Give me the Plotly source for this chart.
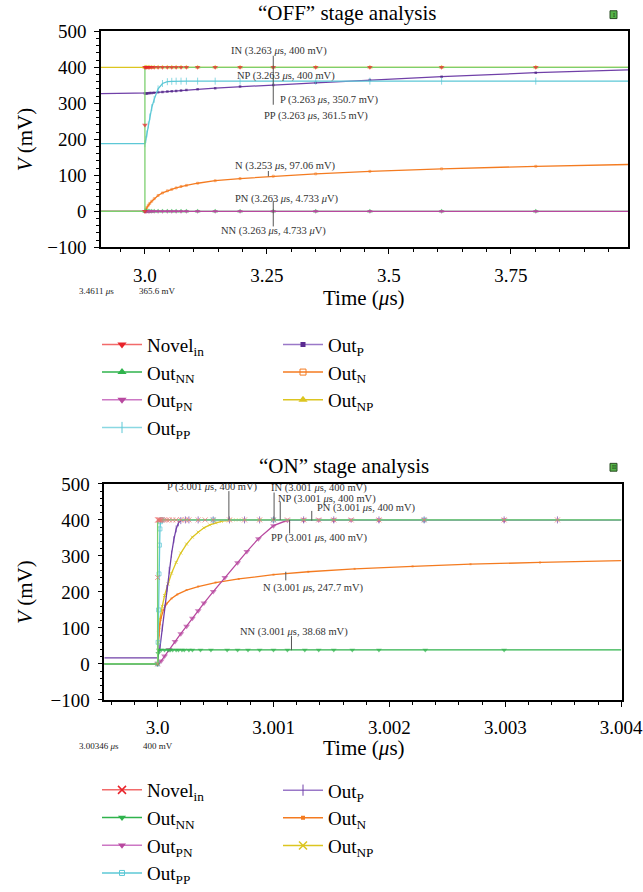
import plotly.graph_objects as go

W, H = 643, 892

# ---------------- DATA: "OFF" stage (time in us, voltage in mV) ----------------
off_t = [2.91, 3.0, 3.002, 3.004, 3.007, 3.01, 3.014, 3.019, 3.027, 3.036, 3.046, 3.055,
         3.064, 3.074, 3.085, 3.108, 3.144, 3.195, 3.263, 3.35, 3.461, 3.608, 3.801, 3.99]
off_in_t = [2.91, 3.0, 3.0, 3.0, 3.002, 3.004, 3.007, 3.01, 3.014, 3.019, 3.027, 3.036, 3.046,
            3.055, 3.064, 3.074, 3.085, 3.108, 3.144, 3.195, 3.263, 3.35, 3.461, 3.608, 3.801, 3.99]
off_in_v = [0, 0, 240, 400, 400, 400, 400, 400, 400, 400, 400, 400, 400,
            400, 400, 400, 400, 400, 400, 400, 400, 400, 400, 400, 400, 400]
off_nn_v = [0, 0, 0, 0, 0, 0, 0, 0, 0, 0, 0, 0, 0, 0, 0, 0, 0, 0, 0, 0, 0, 0, 0, 0]
off_pn_v = [0, 0, 0, 0, 0, 0, 0, 0, 0, 0, 0, 0, 0, 0, 0, 0, 0, 0, 0, 0, 0, 0, 0, 0]
off_pp_v = [188, 188, 200, 215, 240, 262, 288, 311, 340, 355, 360, 361,
            361.5, 361.5, 361.5, 361.5, 361.5, 361.5, 361.5, 361.5, 361.5, 361.5, 361.5, 361.5]
off_p_v = [327, 327, 327.3, 327.5, 327.9, 328.3, 328.8, 329.4, 330.4, 331.4, 332.5, 333.4,
           334.4, 335.4, 336.6, 338.8, 342.0, 346.3, 350.7, 356.8, 364.5, 373.8, 385.0, 393.0]
off_n_v = [0, 0, 6, 11, 17, 22, 28, 35, 44, 51, 57, 61,
           65, 69, 72, 78, 85, 91, 97.5, 104, 111, 118, 125, 130]
off_np_v = [400, 400, 400, 400, 400, 400, 400, 400, 400, 400, 400, 400,
            400, 400, 400, 400, 400, 400, 400, 400, 400, 400, 400, 400]

# ---------------- DATA: "ON" stage ----------------
on_in_t = [2.99954, 3.0, 3.0, 3.0, 3.000005, 3.00001, 3.000015, 3.00002, 3.00003, 3.00004,
           3.00006, 3.00008, 3.0001, 3.00013, 3.00016, 3.0002, 3.00024, 3.00027, 3.00035,
           3.00041, 3.00048, 3.00062, 3.00075, 3.00088, 3.001, 3.00112, 3.00126, 3.00139,
           3.00152, 3.00167, 3.00191, 3.0023, 3.00299, 3.00345, 3.004]
on_in_v = [0, 0, 240, 400, 400, 400, 400, 400, 400, 400,
           400, 400, 400, 400, 400, 400, 400, 400, 400,
           400, 400, 400, 400, 400, 400, 400, 400, 400,
           400, 400, 400, 400, 400, 400, 400]
on_nn_t = [2.99954, 3.0, 3.000005, 3.00001, 3.00003, 3.00006, 3.00009, 3.00011, 3.00013,
           3.00016, 3.00018, 3.00021, 3.00023, 3.00027, 3.0003, 3.00037, 3.00046, 3.0006,
           3.00069, 3.00078, 3.00088, 3.001, 3.00112, 3.00127, 3.00139, 3.00152, 3.00168,
           3.00191, 3.00231, 3.00299, 3.004]
on_nn_v = [0, 0, 30, 39, 39, 39, 39, 39, 39,
           39, 39, 39, 39, 39, 39, 39, 39, 39,
           39, 39, 39, 38.68, 39, 39, 39, 39, 39,
           39, 39, 39, 39]
on_pp_t = [2.99954, 3.0, 3.000004, 3.000008, 3.000012, 3.000016, 3.00002, 3.000025, 3.00003,
           3.00004, 3.00048, 3.001, 3.0023, 3.004]
on_pp_v = [0, 0, 60, 150, 250, 330, 375, 395, 400, 400, 400, 400, 400, 400]
on_p_t = [2.99954, 3.0, 3.00002, 3.00004, 3.00006, 3.00008, 3.0001, 3.00012, 3.00014, 3.00016,
          3.00018, 3.0002, 3.00024, 3.00027, 3.00035, 3.00048, 3.00062, 3.00075, 3.00088,
          3.001, 3.00126, 3.00152, 3.00191, 3.0023, 3.00299, 3.00345, 3.004]
on_p_v = [17, 17, 45, 100, 155, 210, 260, 305, 345, 375,
          392, 398, 400, 400, 400, 400, 400, 400, 400,
          400, 400, 400, 400, 400, 400, 400, 400]
on_np_t = [2.99954, 3.0, 3.000005, 3.00001, 3.00002, 3.00004, 3.00006, 3.00009, 3.00012,
           3.00016, 3.0002, 3.00025, 3.0003, 3.00035, 3.0004, 3.00045, 3.0005, 3.00055,
           3.0006, 3.00065, 3.0007, 3.00088, 3.001, 3.00126, 3.00152, 3.00191, 3.0023,
           3.00299, 3.004]
on_np_v = [0, 0, 60, 95, 125, 160, 190, 222, 252,
           282, 308, 333, 352, 366, 378, 386, 392, 396,
           398.5, 400, 400, 400, 400, 400, 400, 400, 400,
           400, 400]
on_pn_t = [2.99954, 3.0, 3.00003, 3.00006, 3.0001, 3.00015, 3.0002, 3.00025, 3.0003, 3.00035,
           3.0004, 3.00048, 3.00058, 3.00069, 3.00077, 3.00087, 3.001, 3.00112, 3.00126,
           3.00139, 3.00152, 3.00167, 3.00191, 3.0023, 3.00299, 3.004]
on_pn_v = [0, 0, 8, 22, 40, 62, 84, 105, 127, 148,
           169, 201, 240, 281, 312, 348, 384, 399, 400,
           400, 400, 400, 400, 400, 400, 400]
on_n_t = [2.99954, 3.0, 3.000005, 3.00001, 3.00002, 3.00003, 3.00005, 3.00008, 3.00012,
          3.00017, 3.00025, 3.00035, 3.0005, 3.0007, 3.001, 3.0013, 3.0017, 3.0022, 3.0027,
          3.0033, 3.004]
on_n_v = [0, 0, 50, 80, 110, 128, 150, 168, 182,
          193, 205, 215, 226, 236, 248, 256, 264, 271, 277,
          282, 287]

# tick labels
off_tickvals = [3.0, 3.25, 3.5, 3.75]
off_ticktext = ["3.0", "3.25", "3.5", "3.75"]
on_tickvals = [3.0, 3.001, 3.002, 3.003, 3.004]
on_ticktext = ["3.0", "3.001", "3.002", "3.003", "3.004"]

names = {"in": "Novel<sub>in</sub>", "nn": "Out<sub>NN</sub>", "pn": "Out<sub>PN</sub>",
         "pp": "Out<sub>PP</sub>", "p": "Out<sub>P</sub>", "n": "Out<sub>N</sub>",
         "np": "Out<sub>NP</sub>"}

off_labels = ["IN (3.263 <i>μ</i>s, 400 mV)", "NP (3.263 <i>μ</i>s, 400 mV)",
              "P (3.263 <i>μ</i>s, 350.7 mV)", "PP (3.263 <i>μ</i>s, 361.5 mV)",
              "N (3.253 <i>μ</i>s, 97.06 mV)", "PN (3.263 <i>μ</i>s, 4.733 <i>μ</i>V)",
              "NN (3.263 <i>μ</i>s, 4.733 <i>μ</i>V)"]
on_labels = ["P (3.001 <i>μ</i>s, 400 mV)", "IN (3.001 <i>μ</i>s, 400 mV)",
             "NP (3.001 <i>μ</i>s, 400 mV)", "PN (3.001 <i>μ</i>s, 400 mV)",
             "PP (3.001 <i>μ</i>s, 400 mV)", "N (3.001 <i>μ</i>s, 247.7 mV)",
             "NN (3.001 <i>μ</i>s, 38.68 mV)"]

# ---------------- STYLE ----------------
SERIF = "Liberation Serif"
RED = "#e8232a"
RED_LINE = "#f26a6a"
GREEN = "#2fb34c"
LGREEN = "#7ccf6e"
MAG = "#b8489f"
CYAN = "#5cc8d6"
PURPLE = "#7040a8"
ORANGE = "#f47b20"
YELLOW = "#dcc520"

def px_x(p):
    return p / W

def px_y(p):
    return 1 - p / H

fig = go.Figure()


def msizes(n, s, first_zero=1):
    return [0] * first_zero + [s] * (n - first_zero - 1) + [0]


def add_series(t, v, xa, ya, color, lcolor, symbol, size, lw=1.3, mline=None):
    mk = dict(symbol=symbol, size=msizes(len(t), size), color=color)
    if mline:
        mk["line"] = dict(color=color, width=mline)
    else:
        mk["line"] = dict(width=0)
    fig.add_trace(go.Scatter(x=t, y=v, xaxis=xa, yaxis=ya, mode="lines+markers",
                             line=dict(color=lcolor, width=lw), marker=mk,
                             showlegend=False, hoverinfo="skip"))


def add_legend(name, legend, color, lcolor, symbol, size, mline=None, xa="x", ya="y"):
    mk = dict(symbol=symbol, size=size, color=color)
    mk["line"] = dict(color=color, width=mline) if mline else dict(width=0)
    fig.add_trace(go.Scatter(x=[None], y=[None], xaxis=xa, yaxis=ya, mode="lines+markers",
                             line=dict(color=lcolor, width=1.5), marker=mk, name=name,
                             legend=legend, showlegend=True))


# ---- OFF chart traces ----
add_series(off_t, off_np_v, "x", "y", YELLOW, YELLOW, "triangle-up", 5)
add_series(off_t, off_p_v, "x", "y", "#4a1f80", PURPLE, "square", 2.5)
add_series(off_t, off_pp_v, "x", "y", CYAN, CYAN, "line-ns", 5, mline=1)
add_series(off_t, off_n_v, "x", "y", ORANGE, ORANGE, "square-open", 2, mline=0.8)
add_series(off_t, off_nn_v, "x", "y", GREEN, GREEN, "triangle-up", 5)
add_series(off_t, off_pn_v, "x", "y", MAG, MAG, "triangle-down", 5)
add_series(off_in_t, off_in_v, "x", "y", RED, LGREEN, "triangle-down", 5)

# ---- ON chart traces ----
add_series(on_np_t, on_np_v, "x2", "y2", YELLOW, YELLOW, "x-thin", 3, mline=1)
add_series(on_n_t, on_n_v, "x2", "y2", ORANGE, ORANGE, "square", 2)
add_series(on_pn_t, on_pn_v, "x2", "y2", MAG, MAG, "triangle-down", 6)
add_series(on_p_t, on_p_v, "x2", "y2", PURPLE, PURPLE, "line-ns", 5, mline=1)
add_series(on_pp_t, on_pp_v, "x2", "y2", CYAN, CYAN, "square-open", 4, mline=1)
add_series(on_nn_t, on_nn_v, "x2", "y2", GREEN, GREEN, "triangle-down", 5)
add_series(on_in_t, on_in_v, "x2", "y2", "#f07070", LGREEN, "x-thin", 5, mline=1)

# ---- legend entries ----
add_legend(names["in"], "legend", RED, RED_LINE, "triangle-down", 8)
add_legend(names["nn"], "legend", GREEN, GREEN, "triangle-up", 8)
add_legend(names["pn"], "legend", MAG, "#cc77c4", "triangle-down", 8)
add_legend(names["pp"], "legend", CYAN, "#8ad8e2", "line-ns", 8, mline=1)
add_legend(names["p"], "legend2", "#5a2a90", "#9a78c8", "square", 5)
add_legend(names["n"], "legend2", ORANGE, ORANGE, "square-open", 6, mline=1)
add_legend(names["np"], "legend2", YELLOW, YELLOW, "triangle-up", 8)

add_legend(names["in"], "legend3", RED, RED_LINE, "x-thin", 8, mline=1.5, xa="x2", ya="y2")
add_legend(names["nn"], "legend3", GREEN, GREEN, "triangle-down", 7, xa="x2", ya="y2")
add_legend(names["pn"], "legend3", MAG, "#cc77c4", "triangle-down", 7, xa="x2", ya="y2")
add_legend(names["pp"], "legend3", CYAN, CYAN, "square-open", 5, mline=1, xa="x2", ya="y2")
add_legend(names["p"], "legend4", PURPLE, "#9a78c8", "line-ns", 8, mline=1, xa="x2", ya="y2")
add_legend(names["n"], "legend4", ORANGE, ORANGE, "square", 4, xa="x2", ya="y2")
add_legend(names["np"], "legend4", YELLOW, YELLOW, "x-thin", 8, mline=1.5, xa="x2", ya="y2")

# ---------------- AXES ----------------
axis_common = dict(showline=True, linecolor="black", linewidth=1.5, mirror=True,
                   showgrid=False, zeroline=False, ticks="outside", ticklen=5,
                   tickwidth=1, tickcolor="black", automargin=False, fixedrange=True,
                   ticklabeloverflow="allow",
                   tickfont=dict(family=SERIF, size=19, color="black"))

fig.update_layout(
    xaxis=dict(axis_common, domain=[px_x(101), px_x(628)], anchor="y", range=[2.91, 3.99],
               tickmode="array", tickvals=off_tickvals, ticktext=off_ticktext,
               ticklabelstandoff=5,
               minor=dict(tickmode="linear", tick0=3.0, dtick=0.05, ticks="outside",
                          ticklen=3, tickcolor="black")),
    yaxis=dict(axis_common, domain=[px_y(253), px_y(32)], anchor="x", range=[-100, 500],
               tickmode="linear", tick0=0, dtick=100, ticklabelstandoff=4,
               minor=dict(tickmode="linear", tick0=0, dtick=20, ticks="outside",
                          ticklen=3, tickcolor="black")),
    xaxis2=dict(axis_common, domain=[px_x(104.3), px_x(621.7)], anchor="y2",
                range=[2.99954, 3.0040045], tickmode="array", tickvals=on_tickvals,
                ticktext=on_ticktext, ticklabelstandoff=5,
                minor=dict(tickmode="linear", tick0=3.0, dtick=0.0002, ticks="outside",
                           ticklen=3, tickcolor="black")),
    yaxis2=dict(axis_common, domain=[px_y(716), px_y(495)], anchor="x2", range=[-100, 500],
                tickmode="linear", tick0=0, dtick=100, ticklabelstandoff=4,
                minor=dict(tickmode="linear", tick0=0, dtick=20, ticks="outside",
                           ticklen=3, tickcolor="black")),
)

# ---------------- LEGENDS ----------------
leg_common = dict(orientation="v", xanchor="left", yanchor="top", bgcolor="rgba(0,0,0,0)",
                  borderwidth=0, font=dict(family=SERIF, size=19, color="black"),
                  itemwidth=40, traceorder="normal", itemclick=False, itemdoubleclick=False)
fig.update_layout(
    legend=dict(leg_common, x=px_x(97), y=px_y(333)),
    legend2=dict(leg_common, x=px_x(278), y=px_y(333)),
    legend3=dict(leg_common, x=px_x(97), y=px_y(789)),
    legend4=dict(leg_common, x=px_x(278), y=px_y(789)),
)

# ---------------- TEXT ----------------
ann = []

def text(x, y, s, size, xanchor="center", yanchor="middle", angle=0, color="black"):
    ann.append(dict(x=x, y=y, xref="paper", yref="paper", text=s, showarrow=False,
                    xanchor=xanchor, yanchor=yanchor, textangle=angle,
                    font=dict(family=SERIF, size=size, color=color)))

text(px_x(347), px_y(13), "“OFF” stage analysis", 21)
text(px_x(344), px_y(477), "“ON” stage analysis", 21)
for yc in (142.5, 605.5):
    text(px_x(25), px_y(yc), "<i>V</i> (mV)", 21, angle=-90)
text(px_x(364), px_y(305), "Time (<i>μ</i>s)", 21)
text(px_x(364), px_y(765), "Time (<i>μ</i>s)", 21)
text(px_x(77), px_y(298), "3.4611 <i>μ</i>s", 9, xanchor="left", color="#222")
text(px_x(137), px_y(298), "365.6 mV", 9, xanchor="left", color="#222")
text(px_x(77), px_y(763), "3.00346 <i>μ</i>s", 9, xanchor="left", color="#222")
text(px_x(141), px_y(763), "400 mV", 9, xanchor="left", color="#222")

# icons
shapes = []
for (y0, label) in ((11, "I"), (474, "II")):
    shapes.append(dict(type="rect", xref="paper", yref="paper",
                       x0=px_x(610), x1=px_x(617), y0=px_y(y0 + 8), y1=px_y(y0),
                       fillcolor="#55b348", line=dict(color="#2b4d24", width=1)))
    text(px_x(613.5), px_y(y0 + 4), label, 6, color="#153010")

# data annotations (OFF)
off_pos = [(3.1733, 446.5), (3.1842, 377), (3.2727, 309), (3.2393, 265.7),
           (3.1797, 125.3), (3.1797, 35), (3.1508, -53.9)]
for s, (x, y) in zip(off_labels, off_pos):
    ann.append(dict(x=x, y=y, xref="x", yref="y", text=s, showarrow=False, xanchor="left",
                    yanchor="middle", font=dict(family=SERIF, size=10.5, color="#333")))
off_leaders = [(3.263, 400, 432), (3.263, 400, 296), (3.253, 97, 112), (3.263, 28, -42)]
for x, y0, y1 in off_leaders:
    shapes.append(dict(type="line", xref="x", yref="y", x0=x, x1=x, y0=y0, y1=y1,
                       line=dict(color="#555", width=1)))

# data annotations (ON)
on_pos = [(3.000067, 491), (3.000959, 489), (3.001019, 459), (3.001359, 432.1),
          (3.000959, 350.7), (3.000888, 210.3), (3.000696, 90)]
for s, (x, y) in zip(on_labels, on_pos):
    ann.append(dict(x=x, y=y, xref="x2", yref="y2", text=s, showarrow=False, xanchor="left",
                    yanchor="middle", font=dict(family=SERIF, size=10.5, color="#333")))
on_leaders = [(3.000615, 400, 480), (3.001005, 400, 476), (3.001058, 400, 450),
              (3.00133, 398, 425), (3.001139, 400, 362), (3.001106, 256, 232),
              (3.001155, 38, 78)]
for x, y0, y1 in on_leaders:
    shapes.append(dict(type="line", xref="x2", yref="y2", x0=x, x1=x, y0=y0, y1=y1,
                       line=dict(color="#555", width=1)))

fig.update_layout(width=W, height=H, margin=dict(l=0, r=0, t=0, b=0),
                  plot_bgcolor="white", paper_bgcolor="white",
                  annotations=ann, shapes=shapes, hovermode=False)

fig.write_html("out.html")
